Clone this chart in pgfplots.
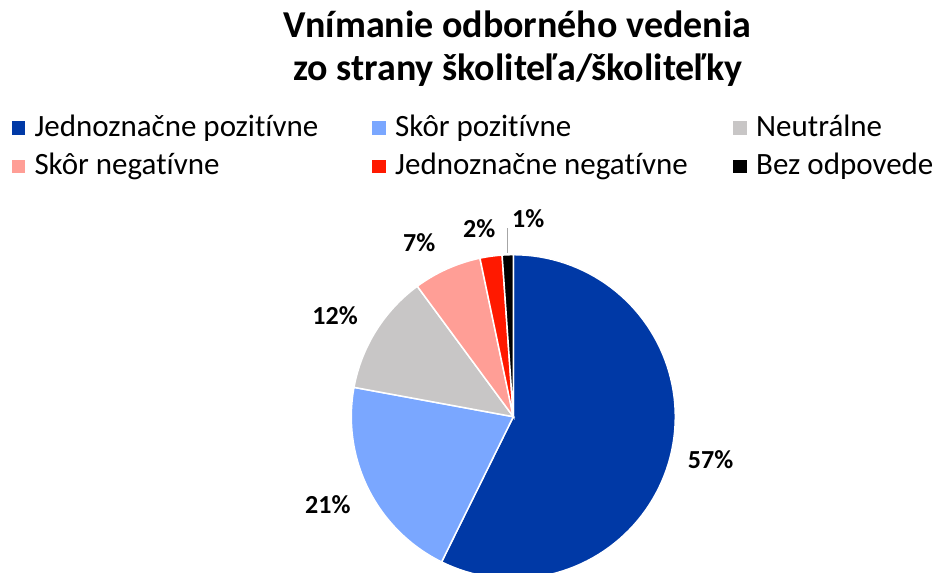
\documentclass[border=0pt]{standalone}
\usepackage{fontspec}
\setmainfont{Carlito}[Ligatures={NoCommon}]
\usepackage{pgfplots}
\pgfplotsset{compat=1.18}

\definecolor{cJPoz}{RGB}{0,57,166}
\definecolor{cSPoz}{RGB}{122,167,255}
\definecolor{cNeu}{RGB}{200,198,198}
\definecolor{cSNeg}{RGB}{255,158,150}
\definecolor{cJNeg}{RGB}{255,25,0}
\definecolor{cBez}{RGB}{0,0,0}

% pie geometry (px of the reference = bp)
\def\cx{513.3}\def\cy{416.7}\def\rad{162}
% shares in percent
\def\vA{57.3}\def\vB{20.6}\def\vC{12.0}\def\vD{6.8}\def\vE{2.2}\def\vF{1.1}
\pgfmathsetmacro\aA{0}
\pgfmathsetmacro\aB{\aA+3.6*\vA}
\pgfmathsetmacro\aC{\aB+3.6*\vB}
\pgfmathsetmacro\aD{\aC+3.6*\vC}
\pgfmathsetmacro\aE{\aD+3.6*\vD}
\pgfmathsetmacro\aF{\aE+3.6*\vE}
\pgfmathsetmacro\aG{\aF+3.6*\vF}

\tikzset{lbl/.style={inner sep=0pt, font=\bfseries\fontsize{26bp}{30bp}\selectfont},
  ttl/.style={inner sep=0pt, anchor=base, font=\bfseries\fontsize{38bp}{44bp}\selectfont}}

\begin{document}
\begin{tikzpicture}
\useasboundingbox (0,0) rectangle (938bp,573bp);
\begin{axis}[
  at={(0,0)}, anchor=south west,
  width=938bp, height=573bp, scale only axis,
  xmin=0, xmax=938, ymin=0, ymax=573, y dir=reverse,
  hide axis, clip=true,
  legend columns=3,
  legend cell align=left,
  legend image code/.code={\fill[#1,draw=none] (0bp,-6.7bp) rectangle (13.5bp,6.7bp);},
  legend style={at={(axis cs:11.5,113)}, anchor=north west,
    draw=none, fill=none, inner sep=0pt, outer sep=0pt,
    font=\fontsize{31bp}{36bp}\selectfont,
    nodes={inner sep=0pt, text height=23bp, text depth=7bp, align=flush left},
    row sep=8.3bp,
    /tikz/every odd column/.style={column sep=9.5bp},
    /tikz/column 2/.style={text width=337.7bp},
    /tikz/column 4/.style={text width=338bp},
  },
  slice/.style={draw=white, line width=1.5bp, samples=90, variable=\t},
]
\addplot[slice, fill=cJPoz, domain=\aA:\aB] ({\cx+\rad*sin(\t)},{\cy-\rad*cos(\t)}) -- (axis cs:\cx,\cy) -- cycle;
\addlegendentry{Jednoznačne pozitívne}
\addplot[slice, fill=cSPoz, domain=\aB:\aC] ({\cx+\rad*sin(\t)},{\cy-\rad*cos(\t)}) -- (axis cs:\cx,\cy) -- cycle;
\addlegendentry{Skôr pozitívne}
\addplot[slice, fill=cNeu, domain=\aC:\aD] ({\cx+\rad*sin(\t)},{\cy-\rad*cos(\t)}) -- (axis cs:\cx,\cy) -- cycle;
\addlegendentry{Neutrálne}
\addplot[slice, fill=cSNeg, domain=\aD:\aE] ({\cx+\rad*sin(\t)},{\cy-\rad*cos(\t)}) -- (axis cs:\cx,\cy) -- cycle;
\addlegendentry{Skôr negatívne}
\addplot[slice, fill=cJNeg, domain=\aE:\aF] ({\cx+\rad*sin(\t)},{\cy-\rad*cos(\t)}) -- (axis cs:\cx,\cy) -- cycle;
\addlegendentry{Jednoznačne negatívne}
\addplot[slice, fill=cBez, domain=\aF:\aG] ({\cx+\rad*sin(\t)},{\cy-\rad*cos(\t)}) -- (axis cs:\cx,\cy) -- cycle;
\addlegendentry{Bez odpovede}

% leader line of the smallest slice
\addplot[gray!70, line width=1bp, forget plot] coordinates {(507.7,228) (507.7,253)};

% data labels
\node[lbl, anchor=base west] at (axis cs:687.7,468.3) {57\%};
\node[lbl, anchor=base east] at (axis cs:350.7,513) {21\%};
\node[lbl, anchor=base east] at (axis cs:358,324) {12\%};
\node[lbl, anchor=base west] at (axis cs:403,251) {7\%};
\node[lbl, anchor=base west] at (axis cs:463,237) {2\%};
\node[lbl, anchor=base west] at (axis cs:512,227) {1\%};

% title
\node[ttl] at (axis cs:517.5,37.5) {Vnímanie odborného vedenia};
\node[ttl] at (axis cs:518,81) {zo strany školiteľa/školiteľky};
\end{axis}
\end{tikzpicture}
\end{document}
